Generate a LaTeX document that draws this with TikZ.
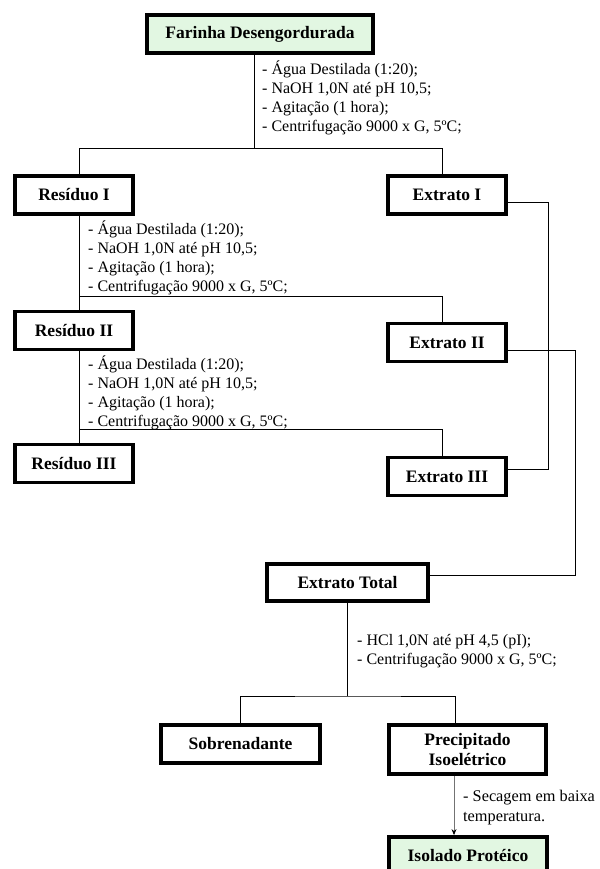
\documentclass[tikz,border=0pt]{standalone}
\usepackage{fontspec}
\setmainfont{Liberation Serif}
\usepackage{xcolor}
\usetikzlibrary{arrows.meta, calc}
\definecolor{mint}{RGB}{226,247,226}
\newcommand{\extracao}{- Água Destilada (1:20);\\- NaOH 1,0N até pH 10,5;\\- Agitação (1 hora);\\- Centrifugação 9000 x G, 5ºC;}

\begin{document}
\begin{tikzpicture}[x=1pt,y=-1pt,
  box/.style={draw, line width=3.8pt, inner sep=0pt, align=center,
    minimum width=118pt, minimum height=38pt,
    font=\fontsize{17.5}{20}\selectfont\bfseries},
  link/.style={line width=0.9pt},
  note/.style={anchor=base west, align=left, inner sep=0pt,
    font=\fontsize{16}{19}\selectfont}]
  \useasboundingbox (0,0) rectangle (599,869);

  % Boxes
  \node[box, fill=mint, minimum width=226pt] (fd) at (260,34) {Farinha Desengordurada};
  \node[box] (r1) at (74,195) {Resíduo I};
  \node[box] (r2) at (74,330.5) {Resíduo II};
  \node[box] (r3) at (74,463.5) {Resíduo III};
  \node[box] (e1) at (447,195) {Extrato I};
  \node[box] (e2) at (447,342.5) {Extrato II};
  \node[box] (e3) at (447,476.5) {Extrato III};
  \node[box, minimum width=161pt, minimum height=37pt] (et) at (347.5,582.5) {Extrato Total};
  \node[box, minimum width=159pt] (sb) at (240.5,744) {Sobrenadante};
  \node[box, minimum width=157pt, minimum height=49pt] (pi) at (467.5,749.5) {Precipitado\\Isoelétrico};
  \node[box, fill=mint, minimum width=158pt, minimum height=36pt] (ip) at (468,855) {Isolado Protéico};

  % Branch points
  \coordinate (split) at (254,148);
  \coordinate (trunk) at (79,0);
  \coordinate (xtr) at (442,0);
  \coordinate (j2) at (79,296);
  \coordinate (j3) at (79,429);
  \coordinate (j4) at (348,696);

  % First extraction (base = last line)
  \draw[link] (fd.south -| split) -- (split);
  \draw[link] (r1.north -| trunk) -- (trunk |- split) -- (xtr |- split) -- (e1.north -| xtr);
  \node[note] (n1) at (262,132) {\extracao};

  % Second extraction
  \draw[link] (r1.south -| trunk) -- (r2.north -| trunk);
  \draw[link] (j2) -| (e2.north -| xtr);
  \node[note] (n2) at (88,291) {\extracao};

  % Third extraction
  \draw[link] (r2.south -| trunk) -- (r3.north -| trunk);
  \draw[link] (j3) -| (e3.north -| xtr);
  \node[note] (n3) at (88,426) {\extracao};

  % Extracts joined
  \draw[link] ($(e1.east)+(0,7)$) -| (548,469) -- ($(e3.east)+(0,-7.5)$);
  \draw[link] ($(e2.east)+(0,7.5)$) -| (575,575) -- ($(et.east)+(0,-7.5)$);

  % Isoelectric precipitation
  \draw[link] (et.south) -- (et.south |- j4);
  \draw[link] (sb.north) |- (j4) -| ($(pi.north)+(-12.5,0)$);
  \node[note] (n4) at (357,664) {- HCl 1,0N até pH 4,5 (pI);\\- Centrifugação 9000 x G, 5ºC;};

  % Drying
  \draw[line width=0.9pt, black!55, -{Stealth[length=6pt,width=5pt,black]}]
    ($(pi.south)+(-13.5,0)$) -- ($(ip.north)+(-14,0)$);
  \node[note, font=\fontsize{16.3}{20}\selectfont] (n5) at (463,821) {- Secagem em baixa\\temperatura.};
\end{tikzpicture}
\end{document}
